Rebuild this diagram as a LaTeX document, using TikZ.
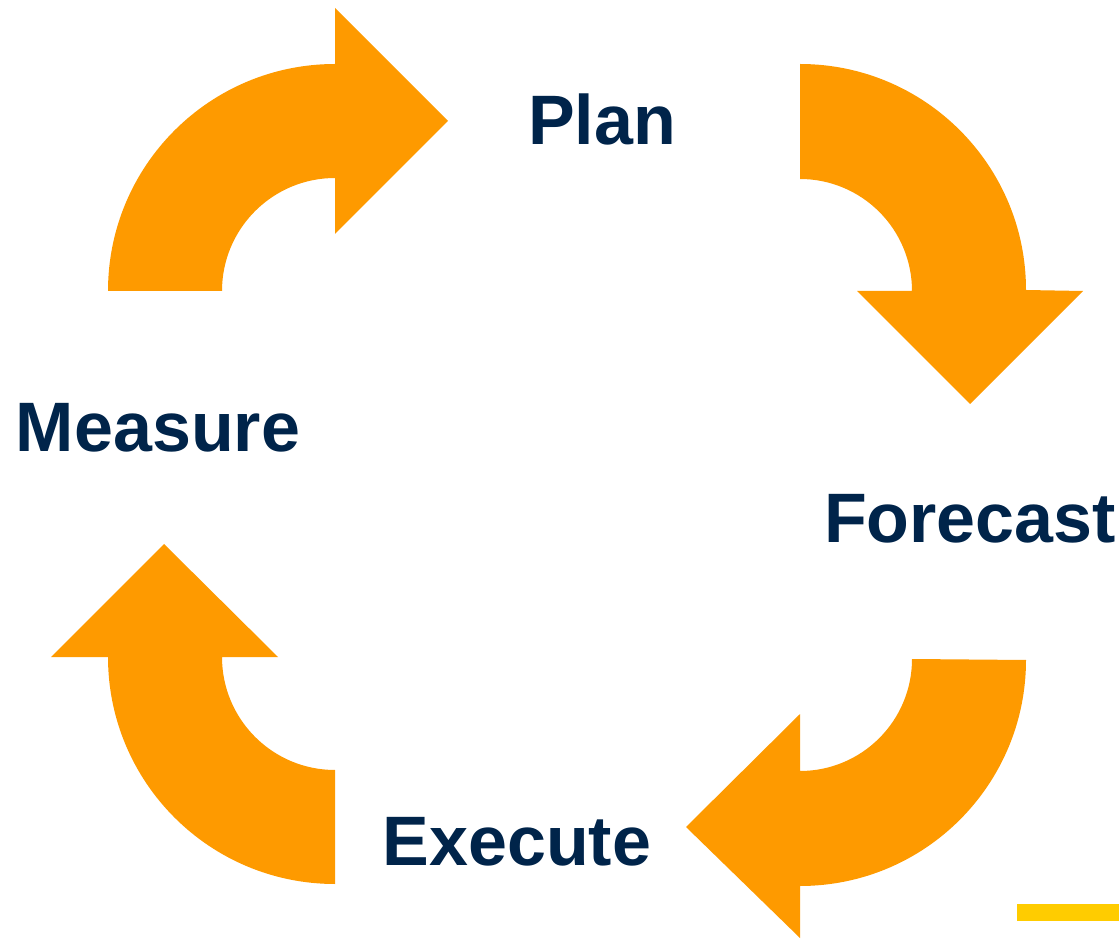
\documentclass[tikz,border=0pt]{standalone}
\usepackage{fontspec}
\setmainfont{Liberation Sans}
\definecolor{cycorange}{HTML}{FE9A00}
\definecolor{cycnavy}{HTML}{00244A}
\definecolor{cycyellow}{HTML}{FFCC00}
\begin{document}
\begin{tikzpicture}[x=1pt,y=1pt,
  cyclearrow/.style={fill=cycorange,draw=none},
  steplabel/.style={text=cycnavy,font=\fontsize{70}{84}\selectfont\bfseries,inner sep=0pt,anchor=base}]
\useasboundingbox (0,0) rectangle (1119,938);

% top-left arrow (Measure -> Plan)
\fill[cyclearrow] (108,647) arc[start angle=180,end angle=90,radius=227]
  -- (335,930) -- (448,817) -- (335,704) -- (335,760)
  arc[start angle=90,end angle=180,radius=113] -- cycle;

% top-right arrow (Plan -> Forecast)
\fill[cyclearrow] (800,874) arc[start angle=90,end angle=0,radius=226]
  -- (1083,647) -- (970,534) -- (857,647) -- (912,647)
  arc[start angle=0,end angle=90,radius=112] -- cycle;

% bottom-right arrow (Forecast -> Execute)
\fill[cyclearrow] (1026,278) arc[start angle=0,end angle=-90,radius=226]
  -- (800,0) -- (686,111) -- (800,224) -- (800,167)
  arc[start angle=-90,end angle=0,radius=112] -- cycle;

% bottom-left arrow (Execute -> Measure)
\fill[cyclearrow] (335,54) arc[start angle=-90,end angle=-180,radius=227]
  -- (51,281) -- (164,394) -- (278,281) -- (222,281)
  arc[start angle=180,end angle=270,radius=113] -- cycle;

% step labels
\node[steplabel] (plan) at (602,793) {Plan};
\node[steplabel] (measure) at (158,486) {Measure};
\node[steplabel] (forecast) at (970,395) {Forecast};
\node[steplabel] (execute) at (517,73) {Execute};

% accent bar
\fill[cycyellow] (1017,17) rectangle (1119,34);
\end{tikzpicture}
\end{document}
